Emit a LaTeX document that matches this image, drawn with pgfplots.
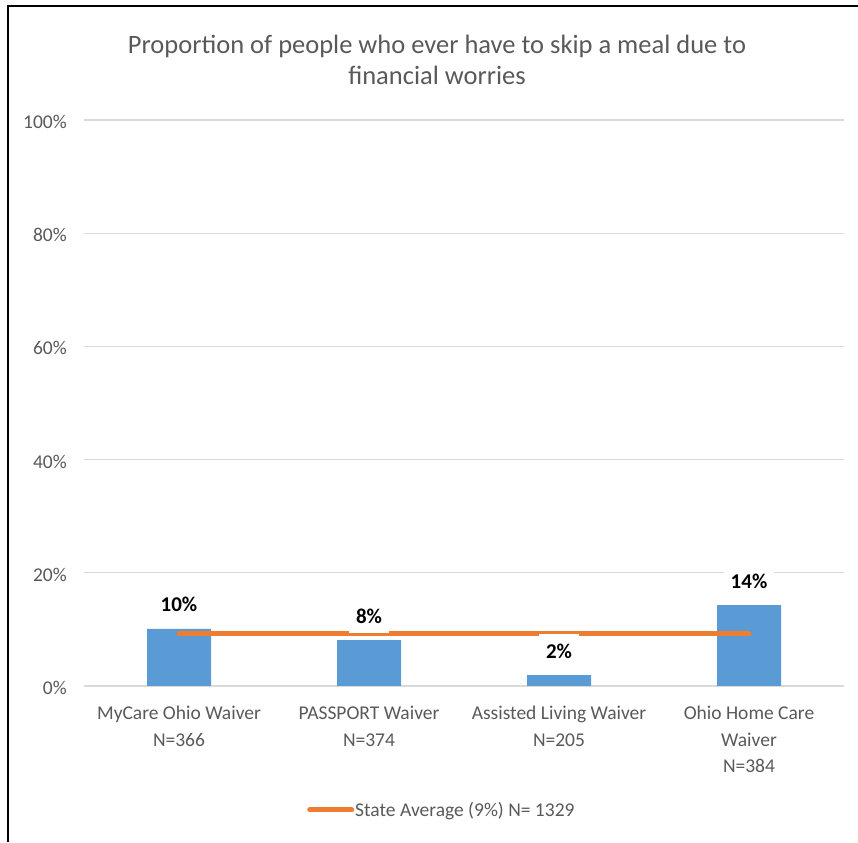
\documentclass[border=0pt]{standalone}
\usepackage{pgfplots}
\pgfplotsset{compat=1.18}
\usepackage{fontspec}
\setmainfont{Carlito}
\definecolor{barblue}{HTML}{5B9BD5}
\definecolor{avgorange}{HTML}{ED7D31}
\definecolor{txtgray}{HTML}{595959}
\definecolor{gridgray}{HTML}{D9D9D9}
\begin{document}
\begin{tikzpicture}
\useasboundingbox (0pt,0pt) rectangle (858pt,842pt);
\draw[line width=2.4pt] (8pt,0pt) |- (858pt,836pt);
\node[align=center, text=txtgray, font=\fontsize{26.5}{31}\selectfont] at (437pt,782pt)
  {Proportion of people who ever have to skip a meal due to\\financial worries};
\begin{axis}[
  at={(84pt,156pt)}, anchor=south west,
  width=760pt, height=566pt, scale only axis,
  xmin=-0.5, xmax=3.5, ymin=0, ymax=100,
  clip=false,
  axis line style={draw=none},
  major tick length=0pt,
  ytick={0,20,40,60,80,100},
  yticklabel={\pgfmathprintnumber{\tick}\%},
  /pgf/number format/assume math mode=true,
  yticklabel style={text=txtgray, font=\fontsize{19.5}{24}\selectfont, inner sep=0pt, anchor=east, xshift=-17pt, yshift=-2pt},
  ymajorgrids, grid style={gridgray, line width=1.3pt},
  xtick={0,1,2,3},
  xticklabels={{MyCare Ohio Waiver\\N=366},{PASSPORT Waiver\\N=374},{Assisted Living Waiver\\N=205},{Ohio Home Care\\Waiver\\N=384}},
  xticklabel style={align=center, text=txtgray, font=\fontsize{19.5}{26.5}\selectfont, inner sep=0pt, anchor=north, yshift=-20pt},
  legend style={draw=none, fill=none, at={(0.2895,-0.2190)}, anchor=west,
    font=\fontsize{19.5}{24}\selectfont, text=txtgray, nodes={inner sep=1pt}},
  legend image code/.code={\draw[#1] (0pt,0pt) -- (42pt,0pt);},
]
\addplot[ybar, bar width=64pt, bar shift=0pt, fill=barblue, draw=none, forget plot]
  coordinates {(0,10.1) (1,8.1) (2,1.9) (3,14.3)};
\addplot[avgorange, line width=5pt, line cap=round]
  coordinates {(0,9.2) (3,9.2)};
\addlegendentry{State Average (9\%) N= 1329}
\addplot[ybar, bar width=64pt, bar shift=0pt, fill=none, draw=none, forget plot,
  nodes near coords={\pgfmathprintnumber[fixed,precision=0]{\pgfplotspointmeta}\%},
  every node near coord/.append style={fill=white, text=black, inner xsep=7pt, inner ysep=10pt,
    anchor=center, yshift=24pt, font=\bfseries\fontsize{21}{24}\selectfont}]
  coordinates {(0,10.1) (1,8.1) (2,1.9) (3,14.3)};
\end{axis}
\end{tikzpicture}
\end{document}
